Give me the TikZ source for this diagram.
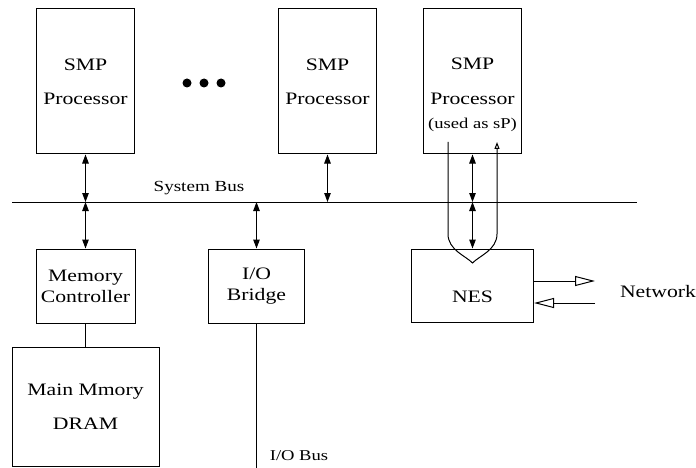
\documentclass[tikz,border=0pt]{standalone}
\usepackage{fontspec}
\setmainfont{Liberation Serif}[FakeStretch=1.24]
\usetikzlibrary{arrows.meta}
\begin{document}
\begin{tikzpicture}[x=1pt,y=-1pt,line width=1pt,
  boxstyle/.style={draw,align=center,inner sep=0,font=\fontsize{17.5}{21}\selectfont},
  arrowstyle/.style={{Triangle[length=9pt,width=6.5pt]}-{Triangle[length=9pt,width=6.5pt]}},
  openstyle/.style={-{Triangle[open,length=20pt,width=10pt]}},
  dotstyle/.style={circle,fill,inner sep=0,minimum size=9}]
 \useasboundingbox (0,0) rectangle (696,468);

 \foreach \name/\x in {smp1/85.5,smp2/327.5}
   \node [boxstyle,minimum width=98,minimum height=145] (\name) at (\x,81.5) {SMP\\[13pt]Processor};
 \node [boxstyle,minimum width=98,minimum height=145,
   label={[yshift=-13pt,align=center,font=\fontsize{17.5}{21}\selectfont]center:{SMP\\[14pt]Processor\\[3pt]{\fontsize{15}{18}\selectfont(used as sP)}}}]
   (smp3) at (472.5,81.5) {};
 \foreach \i/\x in {1/187,2/204,3/221}
   \node [dotstyle] (dot\i) at (\x,83) {};

 \node [boxstyle,minimum width=99,minimum height=74] (memctl) at (85.5,286) {Memory\\Controller};
 \node [boxstyle,minimum width=147,minimum height=119] (mainmem) at (85.5,406.5) {Main Mmory\\[13pt]DRAM};
 \node [boxstyle,minimum width=96,minimum height=74] (iobridge) at (256.5,286) {I/O\\Bridge};
 \node [boxstyle,minimum width=122,minimum height=73,
   label={[yshift=-11pt,font=\fontsize{17.5}{21}\selectfont]center:NES}] (nes) at (472.5,285.5) {};

 \coordinate (busL) at (12,202);
 \coordinate (busR) at (637,202);
 \draw (busL) -- (busR);
 \node [font=\fontsize{15.4}{18}\selectfont] (sysbus) at (199,188) {System Bus};

 \foreach \name in {smp1,smp2,smp3}
   \draw [arrowstyle] (\name.south) -- (\name.south |- busL);
 \foreach \name in {memctl,iobridge,nes}
   \draw [arrowstyle] (\name.north |- busL) -- (\name.north);

 \draw (memctl) -- (mainmem);
 \coordinate (iobusend) at (256.5,470);
 \draw (iobridge.south) -- (iobusend);
 \node [font=\fontsize{15}{18}\selectfont] (iobus) at (299,456) {I/O Bus};

 \coordinate (uleft) at (448,142);
 \coordinate (uright) at (497,142);
 \draw [-{Triangle[open,length=7pt,width=5pt]}] (uleft) -- (448,234)
   .. controls (448,250) and (466,256) .. (472.5,263)
   .. controls (479,256) and (497,250) .. (497,234) -- (uright);

 \coordinate (netout) at (595,281);
 \coordinate (netin) at (595,303);
 \draw [openstyle] (nes.east |- netout) -- (netout);
 \draw [openstyle] (netin) -- (nes.east |- netin);
 \node [font=\fontsize{17.5}{21}\selectfont] (network) at (658,292) {Network};
\end{tikzpicture}
\end{document}
